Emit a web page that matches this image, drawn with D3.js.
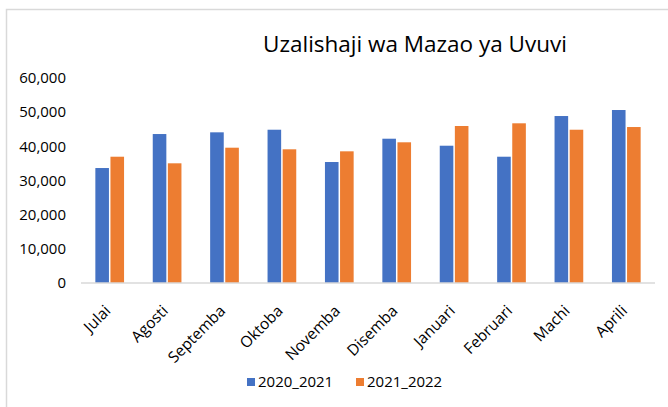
<!DOCTYPE html>
<html>
<head>
<meta charset="utf-8">
<script src="https://cdn.jsdelivr.net/npm/d3@7"></script>
<style>
  body { margin: 0; background: #fff; }
  svg { display: block; }
</style>
</head>
<body>
<div id="chart"></div>
<script>
var title = "Uzalishaji wa Mazao ya Uvuvi";
var months = ["Julai", "Agosti", "Septemba", "Oktoba", "Novemba", "Disemba",
              "Januari", "Februari", "Machi", "Aprili"];
var seriesNames = ["2020_2021", "2021_2022"];
var values2020 = [33650, 43600, 44100, 44860, 35410, 42230, 40180, 36960, 48870, 50630];
var values2021 = [36960, 35030, 39600, 39130, 38540, 41180, 45950, 46740, 44860, 45650];
var yTicks = [0, 10000, 20000, 30000, 40000, 50000, 60000];
var colors = ["#4472C4", "#ED7D31"];

var W = 668, H = 407;
var font = "'Open Sans', sans-serif";

var svg = d3.select("#chart").append("svg")
    .attr("width", W)
    .attr("height", H);

/* chart frame */
svg.append("rect")
  .attr("x", 6.5).attr("y", 9.5)
  .attr("width", 720).attr("height", 440)
  .style("fill", "#fff")
  .style("stroke", "#d9d9d9")
  .style("stroke-width", 1.5);

var x0 = d3.scaleBand().domain(months).range([81, 655])
    .paddingInner(0.5).paddingOuter(0.25);
var x1 = d3.scaleBand().domain(seriesNames).range([0, x0.bandwidth()])
    .paddingInner(0.1);
var y = d3.scaleLinear().domain([0, 60000]).range([283, 78]);

/* title */
svg.append("text")
  .attr("x", 415).attr("y", 52)
  .attr("text-anchor", "middle")
  .style("font", "22.5px " + font)
  .style("fill", "#000")
  .text(title);

/* y labels */
svg.selectAll(".ylabel")
  .data(yTicks)
  .enter().append("text")
    .attr("class", "ylabel")
    .attr("x", 66)
    .attr("y", y)
    .attr("dy", "0.35em")
    .attr("text-anchor", "end")
    .style("font", "15px " + font)
    .style("fill", "#000")
    .text(d3.format(","));

/* bars */
var rows = months.map(function(m, i) {
  return { month: m, vals: [values2020[i], values2021[i]] };
});

var groups = svg.selectAll(".group")
  .data(rows)
  .enter().append("g")
    .attr("class", "group")
    .attr("transform", function(d) { return "translate(" + x0(d.month) + ",0)"; });

groups.selectAll("rect")
  .data(function(d) { return d.vals.map(function(v, j) { return { s: seriesNames[j], v: v, j: j }; }); })
  .enter().append("rect")
    .attr("x", function(d) { return x1(d.s); })
    .attr("y", function(d) { return y(d.v); })
    .attr("width", x1.bandwidth())
    .attr("height", function(d) { return y(0) - y(d.v); })
    .style("fill", function(d) { return colors[d.j]; });

/* baseline */
svg.append("line")
  .attr("x1", 81).attr("x2", 655)
  .attr("y1", y(0)).attr("y2", y(0))
  .style("stroke", "#d9d9d9")
  .style("stroke-width", 1.5);

/* x labels */
svg.selectAll(".xlabel")
  .data(months)
  .enter().append("text")
    .attr("class", "xlabel")
    .attr("text-anchor", "end")
    .attr("transform", function(d) {
      return "translate(" + (x0(d) + x0.bandwidth() / 2 - 2) + ",308) rotate(-45)";
    })
    .attr("dy", "0.35em")
    .style("font", "15.5px " + font)
    .style("fill", "#000")
    .text(function(d) { return d; });

/* legend */
var legend = svg.selectAll(".legend")
  .data(seriesNames)
  .enter().append("g")
    .attr("class", "legend")
    .attr("transform", function(d, i) { return "translate(" + (247 + i * 109) + ",378)"; });

legend.append("rect")
  .attr("width", 8).attr("height", 8)
  .style("fill", function(d, i) { return colors[i]; });

legend.append("text")
  .attr("x", 11).attr("y", 4)
  .attr("dy", "0.35em")
  .style("font", "15px " + font)
  .style("fill", "#000")
  .text(function(d) { return d; });
</script>
</body>
</html>
